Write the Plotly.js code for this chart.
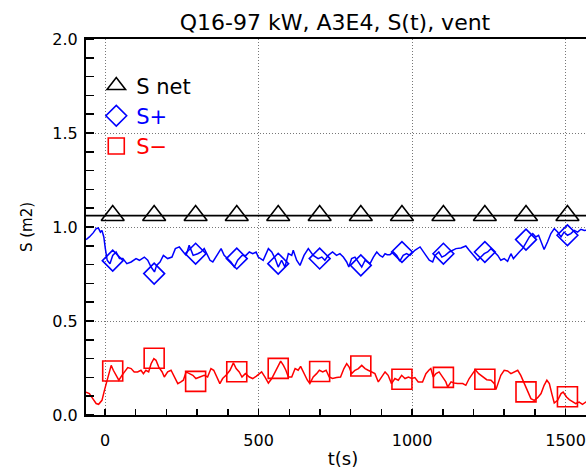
<!DOCTYPE html>
<html>
<head>
<meta charset="utf-8">
<script src="https://cdn.plot.ly/plotly-3.0.1.min.js"></script>
<style>
html,body{margin:0;padding:0;overflow:hidden;background:#fff;}
#chart{width:620px;height:469px;}
</style>
</head>
<body>
<div id="chart"></div>
<script>
// ---- data ----
const titleText = "Q16-97 kW, A3E4, S(t), vent";
const legendNames = ["S net", "S+", "S\u2212"];
const seriesColors = ["black", "#0000ff", "#ff0000"];

// S+ trace (time in s, S in m2)
const tPlus = [-62,-51,-38,-29,-22,-15,-10,-4,1,7,16,25,36,47,58,71,85,101,112,128,139,150,161,168,179,190,204,218,229,242,255,264,274,287,302,313,323,334,342,351,361,372,378,388,400,410,421,432,446,459,470,481,492,499,515,532,543,554,564,575,586,597,608,613,624,635,648,662,678,694,706,716,727,741,754,765,776,787,794,803,814,825,836,847,863,874,885,895,904,912,919,928,939,950,960,971,982,993,1009,1026,1036,1045,1056,1067,1075,1087,1097,1108,1121,1132,1143,1159,1175,1186,1199,1214,1224,1235,1246,1257,1268,1279,1289,1300,1311,1322,1330,1338,1349,1360,1371,1382,1393,1403,1412,1420,1430,1441,1452,1463,1474,1485,1495,1506,1517,1528,1539,1550,1561,1575,1600];
const sPlus = [0.933,0.947,0.970,0.991,0.995,0.973,0.982,0.947,0.885,0.823,0.805,0.849,0.867,0.832,0.832,0.805,0.814,0.832,0.823,0.840,0.823,0.787,0.761,0.796,0.814,0.849,0.832,0.840,0.885,0.894,0.867,0.849,0.903,0.849,0.858,0.867,0.885,0.849,0.823,0.814,0.840,0.867,0.885,0.849,0.832,0.814,0.787,0.823,0.849,0.849,0.867,0.858,0.867,0.840,0.823,0.885,0.867,0.832,0.787,0.823,0.787,0.858,0.849,0.876,0.823,0.796,0.849,0.885,0.849,0.832,0.840,0.823,0.849,0.867,0.849,0.858,0.840,0.814,0.787,0.832,0.840,0.814,0.787,0.823,0.805,0.840,0.867,0.849,0.840,0.858,0.853,0.853,0.867,0.849,0.818,0.849,0.858,0.849,0.876,0.894,0.867,0.849,0.823,0.814,0.849,0.867,0.840,0.849,0.867,0.876,0.885,0.888,0.899,0.876,0.849,0.823,0.840,0.858,0.867,0.885,0.867,0.849,0.823,0.832,0.818,0.858,0.832,0.849,0.867,0.885,0.920,0.947,0.965,0.947,0.956,0.920,0.880,0.920,0.965,0.991,0.973,0.947,0.973,0.956,0.965,0.982,0.973,0.988,0.982,0.985,0.980];

// S- trace
const tMinus = [-62,-51,-40,-29,-21,-10,-2,6,12,20,27,36,45,55,66,74,85,95,106,117,125,133,142,150,159,166,175,186,193,204,215,226,237,247,255,264,274,286,296,307,323,334,345,354,364,374,383,394,407,418,427,437,446,457,470,481,492,510,521,532,543,554,564,572,581,589,597,608,619,629,637,648,659,667,678,689,698,709,720,730,741,754,767,778,787,795,803,814,825,836,847,857,868,879,890,901,912,922,933,944,955,966,977,988,999,1009,1020,1034,1045,1056,1061,1069,1078,1088,1100,1110,1116,1127,1137,1148,1165,1175,1186,1197,1206,1217,1230,1243,1257,1268,1273,1282,1289,1300,1311,1322,1333,1344,1354,1365,1376,1387,1398,1409,1420,1430,1439,1447,1455,1463,1474,1485,1492,1503,1512,1523,1533,1544,1555,1566,1575,1600];
const sMinus = [0.122,0.114,0.087,0.061,0.057,0.078,0.131,0.185,0.220,0.264,0.238,0.211,0.185,0.211,0.238,0.252,0.247,0.229,0.229,0.238,0.220,0.238,0.229,0.273,0.300,0.291,0.255,0.229,0.202,0.229,0.238,0.202,0.167,0.176,0.185,0.229,0.220,0.211,0.194,0.202,0.211,0.202,0.247,0.238,0.202,0.167,0.194,0.211,0.238,0.277,0.247,0.229,0.202,0.220,0.202,0.194,0.206,0.229,0.202,0.170,0.194,0.229,0.255,0.287,0.264,0.238,0.202,0.202,0.247,0.238,0.259,0.220,0.185,0.167,0.202,0.220,0.238,0.229,0.238,0.202,0.194,0.199,0.202,0.247,0.273,0.255,0.220,0.238,0.247,0.264,0.247,0.238,0.229,0.220,0.176,0.202,0.229,0.211,0.167,0.194,0.185,0.211,0.194,0.202,0.194,0.199,0.176,0.176,0.220,0.241,0.247,0.202,0.220,0.229,0.202,0.176,0.149,0.176,0.170,0.167,0.167,0.158,0.194,0.220,0.241,0.220,0.202,0.188,0.185,0.167,0.135,0.176,0.211,0.238,0.234,0.220,0.229,0.238,0.211,0.167,0.122,0.087,0.078,0.092,0.114,0.158,0.185,0.167,0.114,0.064,0.078,0.114,0.122,0.096,0.082,0.069,0.061,0.069,0.057,0.069,0.065,0.060];

// S net (constant)
const tNet = [-62, 1600];
const sNet = [1.061, 1.061];

// symbols, every ~134 s
const tMark = [25,160,295,429,564,699,833,967,1102,1237,1371,1506];
const markNet = [1.061,1.061,1.061,1.061,1.061,1.061,1.061,1.061,1.061,1.061,1.061,1.061];
const markPlus = [0.821,0.752,0.858,0.832,0.805,0.832,0.796,0.867,0.858,0.867,0.933,0.956];
const markMinus = [0.234,0.302,0.179,0.230,0.248,0.231,0.261,0.190,0.200,0.190,0.123,0.097];

// axes
const xTicks = [0, 500, 1000, 1500];
const yTicks = [0.0, 0.5, 1.0, 1.5, 2.0];
const yTickText = ["0.0", "0.5", "1.0", "1.5", "2.0"];

const FONT = "DejaVu Sans, Liberation Sans, sans-serif";
const colored = (i) => '<span style="color:' + seriesColors[i] + '">' + legendNames[i] + '</span>';

const traces = [
  {x: tNet, y: sNet, mode: "lines", line: {color: seriesColors[0], width: 1.8}, showlegend: false, hoverinfo: "skip"},
  {x: tPlus, y: sPlus, mode: "lines", line: {color: seriesColors[1], width: 1.5}, showlegend: false, hoverinfo: "skip"},
  {x: tMinus, y: sMinus, mode: "lines", line: {color: seriesColors[2], width: 1.5}, showlegend: false, hoverinfo: "skip"},
  {x: tMark, y: markNet, mode: "markers", name: colored(0),
   marker: {symbol: "triangle-up-open", size: 20, color: seriesColors[0], line: {width: 1.6, color: seriesColors[0]}}},
  {x: tMark, y: markPlus, mode: "markers", name: colored(1),
   marker: {symbol: "diamond-open", size: 16, color: seriesColors[1], line: {width: 1.6, color: seriesColors[1]}}},
  {x: tMark, y: markMinus, mode: "markers", name: colored(2),
   marker: {symbol: "square-open", size: 20, color: seriesColors[2], line: {width: 1.6, color: seriesColors[2]}}}
];

const layout = {
  width: 620, height: 469,
  margin: {l: 86, r: 20, t: 39, b: 54, pad: 0},
  paper_bgcolor: "white", plot_bgcolor: "white",
  font: {family: FONT, color: "black", size: 16},
  title: {text: titleText, font: {family: FONT, size: 22, color: "black"},
          xref: "container", x: 335/620, xanchor: "center",
          yref: "container", y: 1 - 22/469, yanchor: "middle"},
  showlegend: true,
  legend: {x: 0.02, y: 0.93, xanchor: "left", yanchor: "top", bgcolor: "rgba(0,0,0,0)",
           font: {family: FONT, size: 21}, itemclick: false, tracegroupgap: 0},
  xaxis: {
    range: [-62, 1612], showline: true, linecolor: "black", linewidth: 2, mirror: true,
    tickvals: xTicks, ticktext: xTicks.map(String), ticks: "", ticklabelstandoff: 10,
    showgrid: true, gridcolor: "#777", griddash: "1px,2px", gridwidth: 1, zeroline: false,
    tickfont: {family: FONT, size: 16, color: "black"},
    minor: {dtick: 100, tick0: 0, ticks: "inside", ticklen: 6, tickwidth: 1.5, tickcolor: "black", showgrid: false},
    title: {text: "t(s)", font: {family: FONT, size: 18, color: "black"}, standoff: 8}
  },
  yaxis: {
    range: [0, 2], showline: true, linecolor: "black", linewidth: 2, mirror: true,
    tickvals: yTicks, ticktext: yTickText, ticks: "", ticklabelstandoff: 3,
    showgrid: true, gridcolor: "#777", griddash: "1px,2px", gridwidth: 1, zeroline: false,
    tickfont: {family: FONT, size: 16, color: "black"},
    minor: {dtick: 0.1, tick0: 0, ticks: "inside", ticklen: 8, tickwidth: 1.5, tickcolor: "black", showgrid: false},
    title: {text: "S (m2)", font: {family: FONT, size: 15, color: "black"}, standoff: 16}
  }
};

Plotly.newPlot("chart", traces, layout, {displayModeBar: false, staticPlot: true});
</script>
</body>
</html>
